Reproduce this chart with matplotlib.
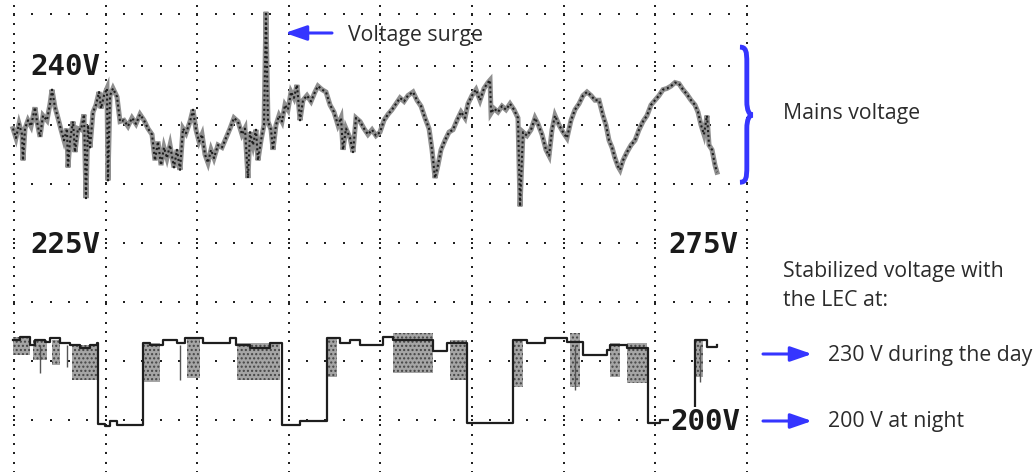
import numpy as np
import matplotlib
matplotlib.use("Agg")
import matplotlib.pyplot as plt
from matplotlib.path import Path
from matplotlib.patches import PathPatch

# mains voltage (top channel, 5 V/div), time in hours (12 h/div)
mains_h = [-0.13, 0.26, 0.66, 1.05, 1.18, 1.44, 1.83, 2.23, 2.75, 3.01, 3.41, 3.80, 4.32, 4.72, 4.98,
           5.37, 5.76, 6.16, 6.55, 6.94, 7.07, 7.34, 7.73, 7.99, 8.38, 8.78, 9.17, 9.43, 9.69, 9.96,
           10.35, 10.74, 11.14, 11.40, 11.79, 12.18, 12.31, 12.58, 12.97, 13.49, 13.89, 14.41, 14.93,
           15.46, 15.98, 16.51, 17.03, 17.55, 18.08, 18.47, 18.86, 19.26, 19.65, 20.04, 20.44, 20.96,
           21.35, 21.75, 22.14, 22.53, 23.06, 23.45, 23.84, 24.24, 24.63, 25.02, 25.41, 25.81, 26.20,
           26.72, 27.25, 27.77, 28.30, 28.82, 29.34, 29.87, 30.26, 30.65, 30.92, 31.31, 31.70, 31.96,
           32.36, 32.75, 33.01, 33.27, 33.67, 33.93, 34.32, 34.72, 35.11, 35.50, 35.89, 36.29, 36.68,
           37.07, 37.47, 37.86, 38.38, 38.91, 39.43, 39.82, 40.35, 40.87, 41.40, 41.92, 42.44, 42.84,
           43.10, 43.49, 44.02, 44.41, 44.80, 45.33, 45.85, 46.37, 46.90, 47.42, 47.95, 48.47, 48.99,
           49.52, 50.04, 50.57, 51.09, 51.61, 52.27, 52.79, 53.32, 53.84, 54.37, 54.76, 55.15, 55.54,
           55.94, 56.46, 56.99, 57.51, 58.03, 58.56, 59.08, 59.47, 60.00, 60.52, 61.05, 61.57, 62.09,
           62.36, 62.49, 62.88, 63.40, 63.93, 64.45, 64.98, 65.50, 66.02, 66.29, 66.68, 67.20, 67.73,
           68.25, 68.64, 69.17, 69.69, 70.09, 70.48, 70.87, 71.40, 71.92, 72.44, 72.97, 73.49, 74.02,
           74.54, 75.06, 75.59, 76.11, 76.64, 77.16, 77.55, 77.95, 78.34, 78.73, 79.12, 79.39, 79.78,
           80.30, 80.83, 81.35, 81.88, 82.40, 82.92, 83.45, 83.97, 84.50, 85.02, 85.54, 86.07, 86.59,
           87.12, 87.64, 88.16, 88.69, 89.21, 89.60, 90.00, 90.39, 90.78, 91.05, 91.44, 91.83, 92.09]
mains_v = [234.7, 233.9, 235.1, 234.2, 232.0, 234.7, 235.4, 234.9, 236.5, 235.3, 234.0, 235.8, 235.4, 236.8, 238.0,
           236.5, 235.6, 234.6, 233.7, 234.7, 231.4, 233.7, 235.3, 232.7, 234.7, 234.6, 235.9, 228.8, 235.0, 233.1,
           236.1, 236.7, 237.8, 236.4, 237.5, 238.1, 230.3, 237.5, 238.1, 237.4, 235.3, 235.4, 234.9,
           235.6, 235.1, 235.9, 235.4, 234.7, 234.2, 232.0, 233.6, 231.6, 233.1, 232.2, 233.3, 231.4,
           232.9, 231.2, 234.7, 234.3, 235.3, 236.3, 234.6, 233.6, 234.2, 232.5, 231.8, 232.9, 232.2,
           233.3, 233.1, 233.9, 234.7, 235.6, 235.3, 234.2, 234.7, 230.5, 234.4, 233.3, 234.6, 232.0,
           233.7, 235.0, 244.6, 235.3, 234.6, 232.9, 235.0, 235.8, 235.3, 236.7, 236.3, 237.8, 237.3,
           238.4, 235.4, 237.1, 237.5, 237.0, 237.8, 238.3, 238.0, 237.8, 236.7, 236.1, 235.0, 235.6,
           232.9, 234.7, 233.9, 232.7, 235.6, 235.3, 234.7, 234.2, 234.6, 234.1, 234.4, 235.4, 235.9,
           236.3, 236.8, 237.3, 237.0, 237.5, 237.8, 237.1, 236.6, 235.6, 234.7, 232.9, 230.5, 231.6,
           232.9, 233.7, 234.4, 234.6, 235.4, 236.1, 235.6, 236.8, 237.5, 238.0, 237.1, 238.1, 238.6,
           238.8, 236.0, 236.4, 236.1, 236.6, 236.3, 236.8, 236.3, 235.6, 228.1, 234.4, 234.1, 234.6,
           235.6, 235.1, 234.2, 232.9, 232.4, 234.6, 235.8, 235.0, 234.4, 233.9, 235.4, 236.3, 236.8,
           237.5, 237.8, 237.5, 237.1, 237.1, 235.8, 235.0, 233.7, 233.1, 232.2, 231.5, 231.2, 232.0,
           232.7, 233.3, 233.7, 234.6, 235.3, 235.8, 236.7, 237.1, 237.5, 238.0, 238.1, 238.3, 238.6,
           238.5, 238.0, 237.6, 237.1, 236.7, 236.1, 235.0, 234.2, 235.8, 233.3, 232.9, 231.6, 231.0]

# stabilized voltage with the LEC (bottom channel, 25 V/div)
stab_h = [-0.13, 0.79, 2.10, 2.75, 4.06, 4.72, 6.03, 7.34, 8.65, 9.96, 10.87, 11.00, 11.92, 12.58, 13.49,
          16.90, 17.82, 19.52, 21.35, 22.40, 24.76, 28.30, 29.08, 30.92, 33.54, 35.11, 37.47, 41.00,
          42.71, 44.02, 45.33, 48.34, 49.65, 54.89, 56.72, 59.34, 65.37, 67.20, 69.56, 72.44, 74.54,
          77.68, 78.08, 80.30, 83.05, 84.63, 89.21, 90.78, 92.09]
stab_v = [233.9, 235.2, 231.8, 233.9, 233.0, 234.7, 232.6, 231.8, 230.5, 231.8, 232.6, 198.3, 197.5, 199.6, 197.9,
          232.6, 231.8, 233.9, 232.6, 234.7, 232.6, 234.7, 231.8, 230.5, 232.6, 197.9, 199.6, 234.7,
          232.6, 233.9, 231.8, 235.2, 233.9, 229.2, 232.6, 198.7, 233.9, 232.6, 234.7, 233.0, 227.5,
          229.7, 231.8, 230.5, 198.7, 200.0, 233.9, 230.9, 231.8]

# ripple bands on the stabilized trace: start h, end h, min V, max V
band_h0 = [-0.13, 2.49, 4.98, 7.60, 16.90, 22.66, 29.21, 41.00, 49.65, 57.12, 65.37, 72.84, 78.08, 80.30, 89.21]
band_h1 = [2.10, 4.32, 6.03, 10.87, 19.13, 24.37, 34.85, 42.31, 54.89, 59.34, 66.68, 74.15, 79.39, 82.92, 90.26]
band_lo = [227.5, 225.4, 223.3, 216.9, 216.1, 217.8, 216.9, 218.2, 219.9, 216.9, 214.0, 214.0, 218.2, 215.7, 218.2]
band_hi = [235.2, 233.9, 233.9, 231.8, 232.6, 234.7, 232.6, 234.7, 236.9, 233.9, 233.9, 236.9, 232.6, 232.6, 233.9]
drip_h = [3.41, 6.94, 21.75, 73.49, 89.87]
drip_lo = [219.9, 222.5, 216.9, 212.7, 216.1]


def mains_div(v):
    return 6 + (np.asarray(v) - 240) / 5.0


def stab_div(v):
    return (np.asarray(v) - 200) / 25.0


fig = plt.figure(figsize=(10.34, 4.72), dpi=100)
ax = fig.add_axes([0, 0, 1, 1])
ax.set_xlim(-1.834, 133.62)
ax.set_ylim(-0.881, 7.119)
ax.axis("off")

# dotted scope graticule
dot = dict(ls="none", marker="s", ms=1.9, color="#222222", mew=0)
rows = [0, 1, 2, 3, 4, 5, 6, 6.88]
xs = np.arange(0, 96.01, 2.4)
for r in rows:
    ax.plot(xs, np.full_like(xs, r), **dot)
ys = np.arange(-0.88, 7.12, 0.158)
for c in range(0, 97, 12):
    ax.plot(np.full_like(ys, c), ys, **dot)

# stabilized trace
for h0, h1, lo, hi in zip(band_h0, band_h1, band_lo, band_hi):
    ax.fill_between([h0, h1], stab_div(lo), stab_div(hi), color="#a5a5a5",
                    hatch="....", edgecolor="#444444", lw=0, zorder=3)
ax.vlines(drip_h, stab_div(drip_lo), stab_div(232), color="#555555", lw=1, zorder=3)
ax.plot(stab_h, stab_div(stab_v), drawstyle="steps-post", color="#1e1e1e", lw=1.6, zorder=4)

# mains trace: grey band with dark stipple, like the scope print
ax.plot(mains_h, mains_div(mains_v), color="#8f8f8f", lw=3.6, zorder=4, solid_joinstyle="miter")
ax.plot(mains_h, mains_div(mains_v), color="#1e1e1e", lw=1.5, ls=(0, (1, 1.3)), zorder=4)

# scope labels
lab = dict(family="DejaVu Sans Mono", weight="bold", fontsize=21, color="#1a1a1a",
           va="baseline", zorder=6, bbox=dict(fc="white", ec="none", pad=1))
ax.text(2.1, 5.85, "240V", **lab)
ax.text(2.1, 2.83, "225V", **lab)
ax.text(85.7, 2.83, "275V", **lab)
ax.text(86.0, -0.17, "200V", **lab)

# annotations
blue = "#3535ff"
fam = ["Open Sans", "DejaVu Sans"]
tx = dict(family=fam, fontsize=15.3, color="#2b2b2b", va="center")
arr = dict(arrowstyle="-|>,head_length=1.3,head_width=0.45", color=blue, lw=2.2, shrinkA=0, shrinkB=0)

ax.annotate("", xy=(285, 439), xytext=(332, 439), xycoords="figure pixels", arrowprops=arr)
fig.text(348 / 1034, 1 - 35 / 472, "Voltage surge", **tx)

verts = [(95.1, 6.32), (95.9, 6.32), (96.0, 6.25), (96.0, 6.05), (96.0, 5.4),
         (96.0, 5.25), (96.3, 5.17), (96.8, 5.17),
         (96.3, 5.17), (96.0, 5.09), (96.0, 4.94), (96.0, 4.3),
         (96.0, 4.1), (95.9, 4.03), (95.1, 4.03)]
codes = [Path.MOVETO, Path.CURVE4, Path.CURVE4, Path.CURVE4, Path.LINETO,
         Path.CURVE4, Path.CURVE4, Path.CURVE4,
         Path.CURVE4, Path.CURVE4, Path.CURVE4, Path.LINETO,
         Path.CURVE4, Path.CURVE4, Path.CURVE4]
ax.add_patch(PathPatch(Path(verts, codes), fc="none", ec=blue, lw=3.5, zorder=5, clip_on=False))
fig.text(783 / 1034, 1 - 114 / 472, "Mains voltage", **tx)

fig.text(783 / 1034, 1 - 272 / 472, "Stabilized voltage with", **tx)
fig.text(783 / 1034, 1 - 300 / 472, "the LEC at:", **tx)
ax.annotate("", xy=(812, 118), xytext=(763, 118), xycoords="figure pixels", arrowprops=arr)
fig.text(828 / 1034, 1 - 355 / 472, "230 V during the day", **tx)
ax.annotate("", xy=(812, 51), xytext=(763, 51), xycoords="figure pixels", arrowprops=arr)
fig.text(828 / 1034, 1 - 421 / 472, "200 V at night", **tx)

fig.savefig("out.png", dpi=100, facecolor="white")
